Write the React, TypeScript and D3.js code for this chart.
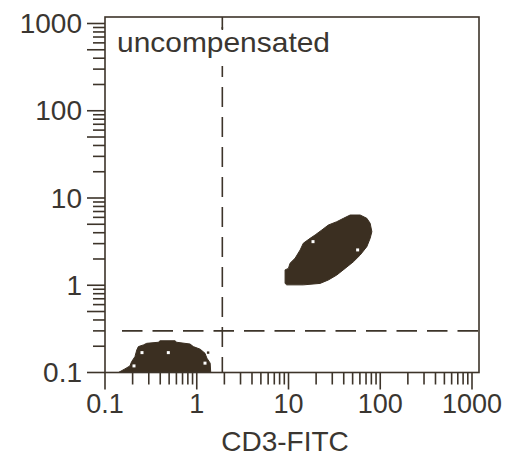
import React from 'react';
import * as d3 from 'd3';

const decades = [0.1, 1, 10, 100, 1000];
const xLabels = ['0.1', '1', '10', '100', '1000'];
const yLabels = ['0.1', '1', '10', '100', '1000'];
const xTitle = 'CD3-FITC';
const panelLabel = 'uncompensated';
const gateX = 1.9;
const gateY = 0.3;

// outline of the CD3-negative population (x, y)
const negativePopulation: [number, number][] = [
  [0.14, 0.1], [0.165, 0.11], [0.187, 0.119], [0.195, 0.133], [0.212, 0.152],
  [0.222, 0.181], [0.231, 0.198], [0.262, 0.207], [0.285, 0.216], [0.381, 0.222],
  [0.398, 0.231], [0.579, 0.231], [0.605, 0.222], [0.845, 0.212], [0.918, 0.198],
  [1.09, 0.185], [1.23, 0.166], [1.29, 0.146], [1.4, 0.128], [1.42, 0.1],
];
// outline of the CD3-positive population
const positivePopulation: [number, number][] = [
  [9.18, 1.05], [9.18, 1.5], [9.98, 1.56], [10.4, 1.79], [11.8, 2.04],
  [13.4, 2.54], [14.5, 3.03], [17.2, 3.45], [19.5, 3.77], [23.1, 4.3],
  [27.2, 4.9], [33.6, 5.35], [39.7, 5.85], [47.0, 6.38], [60.4, 6.38],
  [71.4, 5.85], [77.6, 5.13], [81.0, 4.11], [77.6, 3.45], [71.4, 2.77],
  [60.4, 2.22], [51.0, 1.86], [41.4, 1.56], [33.6, 1.31], [27.2, 1.15],
  [22.1, 1.05], [14.5, 1.01], [9.57, 1.01],
];
const emptyBins: [number, number][] = [
  [0.253, 0.169], [0.49, 0.169], [0.207, 0.119], [1.23, 0.128],
  [18.5, 3.16], [56.7, 2.54],
];
const strayEvents: [number, number][] = [[1.33, 0.169]];

const W = 516;
const H = 457;
const INK = '#3d342a';
const FILL = '#3b2f21';
const TEXT = '#3a3631';
const FONT = '"Liberation Sans", Arial, Helvetica, sans-serif';

export default function App() {
  const x = d3.scaleLog().domain([0.1, 1000]).range([105, 472]);
  const y = d3.scaleLog().domain([0.1, 1000]).range([372.5, 23.5]);
  const left = x(0.1);
  const right = x(1000) + 7;
  const top = y(1000) - 6.5;
  const bottom = y(0.1);

  const line = d3.line<[number, number]>().x((d) => x(d[0])).y((d) => y(d[1]));
  const lead = (t: number) => Math.round(t / Math.pow(10, Math.floor(Math.log10(t) + 1e-9)));

  const gx = x(gateX);
  const gy = y(gateY);

  return (
    <svg width={W} height={H} style={{ position: 'absolute', left: 0, top: 0, background: '#fff' }}>
      <rect x={0} y={0} width={W} height={H} fill="#fff" />
      <path d={line(negativePopulation)! + 'Z'} fill={FILL} stroke={FILL} strokeWidth={1} />
      <path d={line(positivePopulation)! + 'Z'} fill={FILL} stroke={FILL} strokeWidth={1} />
      {emptyBins.map((d, i) => (
        <rect key={'h' + i} x={x(d[0]) - 1.5} y={y(d[1]) - 1.5} width={3} height={3} fill="#fff" />
      ))}
      {strayEvents.map((d, i) => (
        <rect key={'s' + i} x={x(d[0]) - 1.2} y={y(d[1]) - 1.2} width={2.4} height={2.4} fill={FILL} />
      ))}

      {/* gates */}
      <line x1={gx} x2={gx} y1={top} y2={bottom} stroke={INK} strokeWidth={1.6}
        strokeDasharray="20 10" strokeDashoffset={20} />
      <line x1={gx} x2={gx} y1={top} y2={top + 12} stroke={INK} strokeWidth={1.6} />
      <line x1={left + 17} x2={right} y1={gy} y2={gy} stroke={INK} strokeWidth={1.6}
        strokeDasharray="20.5 10" />

      {/* panel label */}
      <rect x={111} y={30} width={226} height={36} fill="#fff" />
      <text x={117} y={52} fontFamily={FONT} fontSize={28} fill={TEXT}
        textLength={213} lengthAdjust="spacingAndGlyphs">{panelLabel}</text>

      {/* frame */}
      <rect x={left} y={top} width={right - left} height={bottom - top} fill="none" stroke={INK} strokeWidth={1.6} />

      {/* y ticks */}
      {y.ticks().map((t, i) => {
        const len = lead(t) === 1 || lead(t) === 5 ? 18 : 12;
        return <line key={'yt' + i} x1={left - len} x2={left} y1={y(t)} y2={y(t)} stroke={INK} strokeWidth={1.6} />;
      })}
      {/* x ticks */}
      {x.ticks().map((t, i) => {
        const len = lead(t) === 1 ? 17 : 12;
        return <line key={'xt' + i} x1={x(t)} x2={x(t)} y1={bottom} y2={bottom + len} stroke={INK} strokeWidth={1.6} />;
      })}

      {decades.map((v, i) => (
        <text key={'yl' + i} x={82} y={y(v) + 9.5} textAnchor="end" fontFamily={FONT} fontSize={28} fill={TEXT}>
          {yLabels[i]}
        </text>
      ))}
      {decades.map((v, i) => (
        <text key={'xl' + i} x={x(v)} y={413} textAnchor="middle" fontFamily={FONT} fontSize={27} fill={TEXT}>
          {xLabels[i]}
        </text>
      ))}
      <text x={285} y={451} textAnchor="middle" fontFamily={FONT} fontSize={28} fill={TEXT}>{xTitle}</text>
    </svg>
  );
}
